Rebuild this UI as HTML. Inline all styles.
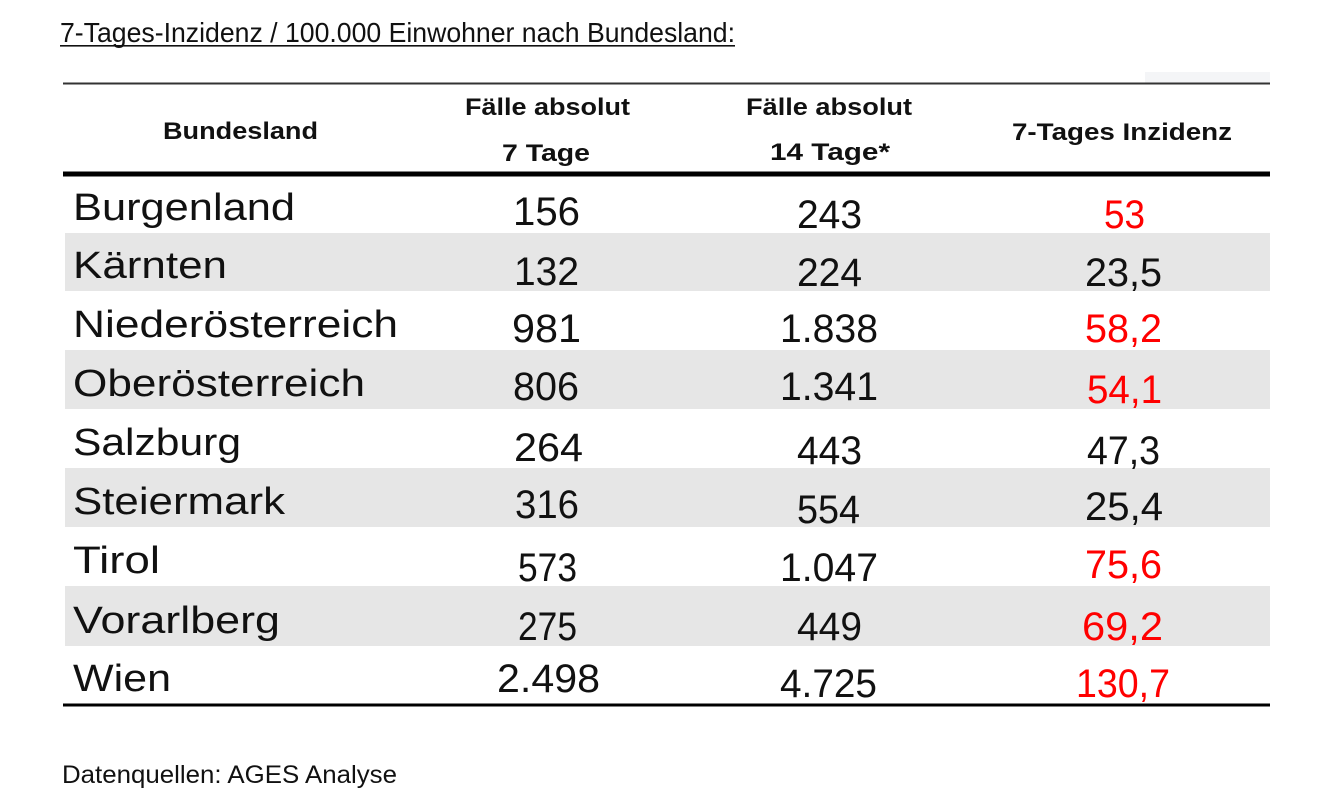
<!DOCTYPE html>
<html><head><meta charset="utf-8"><style>
html,body{margin:0;padding:0;background:#fff;width:1336px;height:811px;overflow:hidden}
svg{display:block}
text{font-family:"Liberation Sans",sans-serif}
.h{font-weight:bold;font-size:24px;fill:#111}
.n{font-size:38px;fill:#111}
.v{font-size:40px;fill:#111}
.r{fill:#ff0000}
</style></head><body>
<svg width="1336" height="811" viewBox="0 0 1336 811" xmlns="http://www.w3.org/2000/svg">
<rect width="1336" height="811" fill="#fff"/>
<text x="60" y="42" font-size="28" fill="#111" textLength="675" lengthAdjust="spacingAndGlyphs">7-Tages-Inzidenz / 100.000 Einwohner nach Bundesland:</text>
<rect x="60" y="45" width="675" height="1.6" fill="#111"/>
<rect x="1145" y="72" width="125" height="11" fill="#f4f5f7"/>
<rect x="63" y="82.5" width="1207" height="2" fill="#333"/>
<text class="h" x="163" y="139" textLength="155" lengthAdjust="spacingAndGlyphs">Bundesland</text>
<text class="h" x="465" y="115" textLength="165" lengthAdjust="spacingAndGlyphs">Fälle absolut</text>
<text class="h" x="502" y="161" textLength="88" lengthAdjust="spacingAndGlyphs">7 Tage</text>
<text class="h" x="746" y="115" textLength="166" lengthAdjust="spacingAndGlyphs">Fälle absolut</text>
<text class="h" x="770" y="160" textLength="120" lengthAdjust="spacingAndGlyphs">14 Tage*</text>
<text class="h" x="1012" y="140" textLength="220" lengthAdjust="spacingAndGlyphs">7-Tages Inzidenz</text>
<rect x="63" y="171.5" width="1207" height="5" fill="#000"/>
<rect x="65" y="233" width="1205" height="58" fill="#e6e6e6"/>
<rect x="65" y="350" width="1205" height="59" fill="#e6e6e6"/>
<rect x="65" y="468" width="1205" height="59" fill="#e6e6e6"/>
<rect x="65" y="586" width="1205" height="60" fill="#e6e6e6"/>
<rect x="63" y="703.5" width="1207" height="3" fill="#000"/>
<text class="n" x="73" y="220" textLength="222" lengthAdjust="spacingAndGlyphs">Burgenland</text>
<text class="n" x="73" y="278" textLength="154" lengthAdjust="spacingAndGlyphs">Kärnten</text>
<text class="n" x="73" y="337" textLength="325" lengthAdjust="spacingAndGlyphs">Niederösterreich</text>
<text class="n" x="73" y="396" textLength="292" lengthAdjust="spacingAndGlyphs">Oberösterreich</text>
<text class="n" x="73" y="455" textLength="168" lengthAdjust="spacingAndGlyphs">Salzburg</text>
<text class="n" x="73" y="514" textLength="212" lengthAdjust="spacingAndGlyphs">Steiermark</text>
<text class="n" x="73" y="573" textLength="87" lengthAdjust="spacingAndGlyphs">Tirol</text>
<text class="n" x="73" y="633" textLength="207" lengthAdjust="spacingAndGlyphs">Vorarlberg</text>
<text class="n" x="73" y="691" textLength="98" lengthAdjust="spacingAndGlyphs">Wien</text>
<text class="v" x="513" y="225" textLength="67" lengthAdjust="spacingAndGlyphs">156</text>
<text class="v" x="514" y="285" textLength="65" lengthAdjust="spacingAndGlyphs">132</text>
<text class="v" x="512" y="342" textLength="69" lengthAdjust="spacingAndGlyphs">981</text>
<text class="v" x="513" y="400" textLength="66" lengthAdjust="spacingAndGlyphs">806</text>
<text class="v" x="514" y="461" textLength="69" lengthAdjust="spacingAndGlyphs">264</text>
<text class="v" x="515" y="518" textLength="64" lengthAdjust="spacingAndGlyphs">316</text>
<text class="v" x="518" y="581" textLength="59" lengthAdjust="spacingAndGlyphs">573</text>
<text class="v" x="518" y="640" textLength="59" lengthAdjust="spacingAndGlyphs">275</text>
<text class="v" x="497" y="692" textLength="103" lengthAdjust="spacingAndGlyphs">2.498</text>
<text class="v" x="797" y="228" textLength="65" lengthAdjust="spacingAndGlyphs">243</text>
<text class="v" x="797" y="286" textLength="65" lengthAdjust="spacingAndGlyphs">224</text>
<text class="v" x="780" y="342" textLength="98" lengthAdjust="spacingAndGlyphs">1.838</text>
<text class="v" x="780" y="400" textLength="98" lengthAdjust="spacingAndGlyphs">1.341</text>
<text class="v" x="797" y="464" textLength="65" lengthAdjust="spacingAndGlyphs">443</text>
<text class="v" x="797" y="523" textLength="63" lengthAdjust="spacingAndGlyphs">554</text>
<text class="v" x="780" y="581" textLength="98" lengthAdjust="spacingAndGlyphs">1.047</text>
<text class="v" x="797" y="640" textLength="65" lengthAdjust="spacingAndGlyphs">449</text>
<text class="v" x="780" y="697" textLength="97" lengthAdjust="spacingAndGlyphs">4.725</text>
<text class="v r" x="1104" y="228" textLength="41" lengthAdjust="spacingAndGlyphs">53</text>
<text class="v" x="1085" y="286" textLength="77" lengthAdjust="spacingAndGlyphs">23,5</text>
<text class="v r" x="1085" y="342" textLength="77" lengthAdjust="spacingAndGlyphs">58,2</text>
<text class="v r" x="1087" y="403" textLength="75" lengthAdjust="spacingAndGlyphs">54,1</text>
<text class="v" x="1087" y="464" textLength="73" lengthAdjust="spacingAndGlyphs">47,3</text>
<text class="v" x="1085" y="520" textLength="78" lengthAdjust="spacingAndGlyphs">25,4</text>
<text class="v r" x="1085" y="578" textLength="77" lengthAdjust="spacingAndGlyphs">75,6</text>
<text class="v r" x="1082" y="640" textLength="81" lengthAdjust="spacingAndGlyphs">69,2</text>
<text class="v r" x="1076" y="697" textLength="94" lengthAdjust="spacingAndGlyphs">130,7</text>
<text x="62" y="783" font-size="25" fill="#111" textLength="335" lengthAdjust="spacingAndGlyphs">Datenquellen: AGES Analyse</text>
</svg>
</body></html>
